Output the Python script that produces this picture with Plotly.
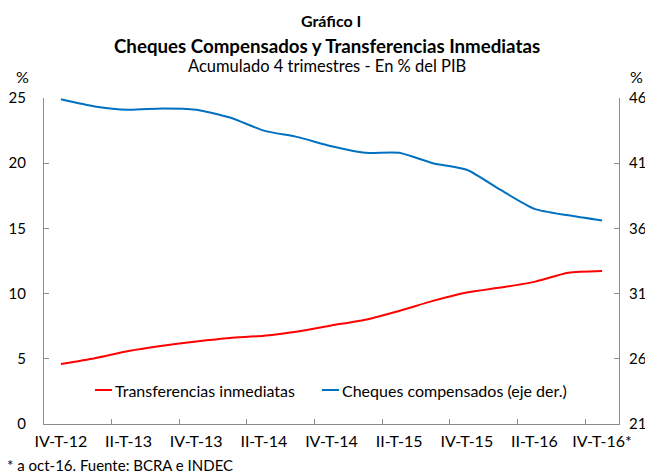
import plotly.graph_objects as go

quarters = ["IV-T-12", "I-T-13", "II-T-13", "III-T-13", "IV-T-13", "I-T-14", "II-T-14", "III-T-14",
            "IV-T-14", "I-T-15", "II-T-15", "III-T-15", "IV-T-15", "I-T-16", "II-T-16", "III-T-16", "IV-T-16*"]
transferencias = [4.6, 5.05, 5.6, 6.0, 6.33, 6.6, 6.77, 7.1, 7.56, 8.0, 8.67, 9.44, 10.08, 10.46, 10.9, 11.6, 11.74]
cheques = [45.9, 45.35, 45.1, 45.2, 45.1, 44.5, 43.5, 43.0, 42.3, 41.8, 41.8, 41.0, 40.5, 38.95, 37.5, 37.0, 36.6]
left_ticks = [0, 5, 10, 15, 20, 25]
right_ticks = [21, 26, 31, 36, 41, 46]
series_names = ["Transferencias inmediatas", "Cheques compensados (eje der.)"]
series_colors = ["#ff0000", "#0070c0"]

FONT = "Lato"
AX = "#8c8c8c"
# the page body adds an 8px offset; design coordinates are shifted to compensate
OFF = 8
W, H = 653, 476
L, R, T, B = 44 - OFF, 34 + OFF, 98 - OFF, 52 + OFF

fig = go.Figure()
fig.add_trace(go.Scatter(x=quarters, y=transferencias, name=series_names[0],
                         mode="lines", line=dict(color=series_colors[0], width=2, shape="spline", smoothing=0.6),
                         yaxis="y", showlegend=False))
fig.add_trace(go.Scatter(x=quarters, y=cheques, name=series_names[1],
                         mode="lines", line=dict(color=series_colors[1], width=2, shape="spline", smoothing=0.6),
                         yaxis="y2", showlegend=False))

fig.update_layout(
    width=W, height=H,
    margin=dict(l=L, r=R, t=T, b=B, autoexpand=False),
    paper_bgcolor="white", plot_bgcolor="white",
    font=dict(family=FONT, size=16, color="black"),
    showlegend=False,
    xaxis=dict(type="category", range=[-0.5, 16.5], dtick=2, tickson="boundaries", tickangle=0,
               showline=True, linecolor=AX, linewidth=1, ticks="inside", ticklen=5, tickcolor=AX,
               showgrid=False, zeroline=False, tickfont=dict(size=16), ticklabelstandoff=3, automargin=False),
    yaxis=dict(range=[0, 25], tickmode="array", tickvals=left_ticks, showline=True, linecolor=AX, linewidth=1,
               ticks="inside", ticklen=5, tickcolor=AX, showgrid=False, zeroline=False,
               tickfont=dict(size=15), ticklabelstandoff=14, automargin=False),
    yaxis2=dict(range=[21, 46], tickmode="array", tickvals=right_ticks, overlaying="y", side="right",
                showline=True, linecolor=AX, linewidth=1, ticks="inside", ticklen=5, tickcolor=AX,
                showgrid=False, zeroline=False, tickfont=dict(size=15), ticklabelstandoff=6, automargin=False),
)

PW = W - L - R
PH = H - T - B


def px(x, y):
    # target-image pixel -> paper coords
    return (x - OFF - L) / PW, (H - B - (y - OFF)) / PH


def add_px(text, x, y, size, xanchor="center"):
    xx, yy = px(x, y)
    fig.add_annotation(text=text, xref="paper", yref="paper", x=xx, y=yy,
                       xanchor=xanchor, yanchor="middle", showarrow=False,
                       font=dict(family=FONT, size=size, color="black"))


add_px("<b>Gráfico I</b>", 331, 20, 16)
add_px("<b>Cheques Compensados y Transferencias Inmediatas</b>", 327, 46, 18.7)
add_px("Acumulado 4 trimestres - En % del PIB", 327, 66, 16.5)
add_px("%", 22, 77, 16)
add_px("%", 636, 77, 16)
add_px("* a oct-16. Fuente: BCRA e INDEC", 5, 465, 15, xanchor="left")

# manual legend
legend_pos = [(95, 112), (322, 339)]
for (x0, x1), name, col in zip(legend_pos, series_names, series_colors):
    a0, yy = px(x0, 390)
    a1, _ = px(x1, 390)
    fig.add_shape(type="line", xref="paper", yref="paper", x0=a0, x1=a1, y0=yy, y1=yy,
                  line=dict(color=col, width=2))
    add_px(name, x1 + 1, 390, 16, xanchor="left")

fig.write_html("out.html")
